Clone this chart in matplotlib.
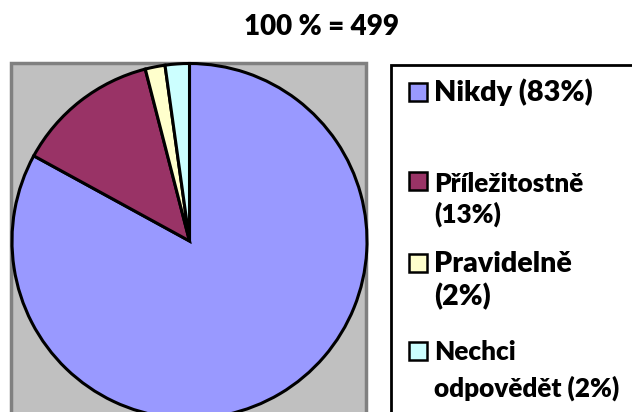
import matplotlib
matplotlib.use("Agg")
import matplotlib.pyplot as plt
from matplotlib.patches import Rectangle

# data
labels = ["Nikdy", "Příležitostně", "Pravidelně", "Nechci odpovědět"]
counts = [414, 65, 9, 11]          # 100 % = 499
percent = [83, 13, 2, 2]
legend_lines = [["Nikdy (83%)"],
                ["Příležitostně", "(13%)"],
                ["Pravidelně", "(2%)"],
                ["Nechci", "odpovědět (2%)"]]
colors = ["#9999FF", "#993366", "#FFFFCC", "#CCFFFF"]
title = "100 % = " + str(sum(counts))

W, H = 632, 412
fig = plt.figure(figsize=(W / 100, H / 100), dpi=100)
ax = fig.add_axes([0, 0, 1, 1])

def Y(y):
    # pixel row (from top) -> axes y
    return H - y

font = "Lato"
weight = "heavy"

# plot area (grey box, runs off the bottom)
ax.add_patch(Rectangle((11, Y(440)), 355, 440 - 63, facecolor="#C0C0C0",
                       edgecolor="#808080", linewidth=2.5, zorder=1))

ax.pie(counts, colors=colors, startangle=90, counterclock=False,
       center=(189.5, Y(241)), radius=177.5, frame=True,
       wedgeprops=dict(edgecolor="black", linewidth=2.2, zorder=2))
ax.set_xlim(0, W)
ax.set_ylim(0, H)
ax.set_aspect("equal")
ax.axis("off")

# title
ax.text(321, Y(35), title, ha="center", va="baseline", fontsize=20,
        fontweight=weight, family=font)

# legend box
ax.add_patch(Rectangle((391, Y(440)), 300, 440 - 65, facecolor="white",
                       edgecolor="black", linewidth=2, zorder=1))

sq_top = [83, 172, 254, 342]
baselines = [[101, 192], [192, 223], [272, 305], [360, 397]]
sizes = [20.8, 18.8, 20.5, 18.8]
for i in range(len(labels)):
    ax.add_patch(Rectangle((409, Y(sq_top[i] + 18)), 18, 18,
                           facecolor=colors[i], edgecolor="black",
                           linewidth=1.8, zorder=3))
    for j, line in enumerate(legend_lines[i]):
        ax.text(434, Y(baselines[i][j]), line, ha="left", va="baseline",
                fontsize=sizes[i], fontweight=weight, family=font, zorder=3)

fig.savefig("out.png", dpi=100)
